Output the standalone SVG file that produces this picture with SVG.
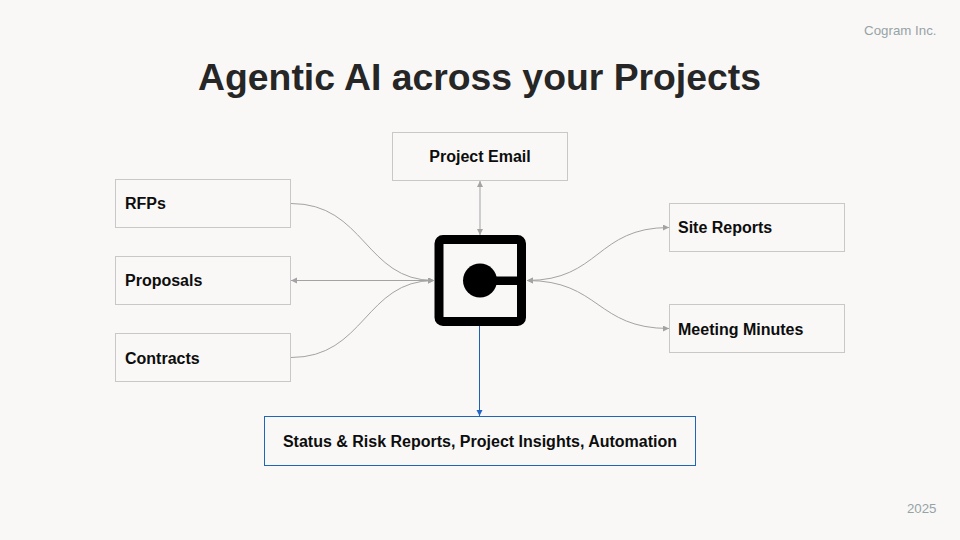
<svg xmlns="http://www.w3.org/2000/svg" width="960" height="540" viewBox="0 0 960 540">
<style>
text{font-family:"Liberation Sans",Arial,sans-serif}
.box{fill:#f9f8f7;stroke:#c8c8c8;stroke-width:1}
.lbl{font-size:16px;font-weight:700;fill:#0d0d0d}
.c{fill:none;stroke:#a3a3a3;stroke-width:1}
.meta{font-size:13.300px;fill:#96a3a6}
</style>
<defs>
<marker id="ag" markerUnits="userSpaceOnUse" markerWidth="8" markerHeight="8" refX="6" refY="3" orient="auto-start-reverse"><path d="M0 0L6 3L0 6Z" fill="#a3a3a3"/></marker>
<marker id="ab" markerUnits="userSpaceOnUse" markerWidth="8" markerHeight="8" refX="6" refY="3" orient="auto"><path d="M0 0L6 3L0 6Z" fill="#1f66c9"/></marker>
</defs>
<rect width="960" height="540" fill="#f9f8f7"/>
<text x="936.500" y="35" text-anchor="end" class="meta">Cogram Inc.</text>
<text x="479.500" y="90" text-anchor="middle" font-size="37.330" font-weight="700" fill="#262626">Agentic AI across your Projects</text>
<g id="connectors">
<path class="c" d="M291 203.500C365 203.500 365 280.500 434 280.500" marker-end="url(#ag)"/>
<path class="c" d="M291 280.500H434" marker-start="url(#ag)" marker-end="url(#ag)"/>
<path class="c" d="M291 357.500C365 357.500 365 280.500 434 280.500" marker-end="url(#ag)"/>
<path class="c" d="M480 181V235" marker-start="url(#ag)" marker-end="url(#ag)"/>
<path class="c" d="M527 280.500C600 280.500 596 227.500 669 227.500" marker-start="url(#ag)" marker-end="url(#ag)"/>
<path class="c" d="M527 280.500C600 280.500 596 328.500 669 328.500" marker-start="url(#ag)" marker-end="url(#ag)"/>
<path d="M479.500 326V416" fill="none" stroke="#1f5fb4" stroke-width="1" marker-end="url(#ab)"/>
</g>
<g id="node-email"><rect class="box" x="392.500" y="132.500" width="175" height="48"/><text class="lbl" x="480" y="162" text-anchor="middle">Project Email</text></g>
<g id="node-rfps"><rect class="box" x="115.500" y="179.500" width="175" height="48"/><text class="lbl" x="125" y="209">RFPs</text></g>
<g id="node-proposals"><rect class="box" x="115.500" y="256.500" width="175" height="48"/><text class="lbl" x="125" y="286">Proposals</text></g>
<g id="node-contracts"><rect class="box" x="115.500" y="333.500" width="175" height="48"/><text class="lbl" x="125" y="364">Contracts</text></g>
<g id="node-site"><rect class="box" x="669.500" y="203.500" width="175" height="48"/><text class="lbl" x="678" y="233">Site Reports</text></g>
<g id="node-minutes"><rect class="box" x="669.500" y="304.500" width="175" height="48"/><text class="lbl" x="678" y="335">Meeting Minutes</text></g>
<g id="node-output"><rect x="264.500" y="416.500" width="431" height="49" fill="#f9f8f7" stroke="#1f66b8" stroke-width="1"/><text class="lbl" x="480" y="447" text-anchor="middle">Status &amp; Risk Reports, Project Insights, Automation</text></g>
<g id="node-logo">
<rect x="439" y="239.500" width="82.500" height="82" rx="4" fill="none" stroke="#000" stroke-width="9"/>
<circle cx="480" cy="280.500" r="17"/>
<rect x="480" y="276.500" width="38" height="8.500"/>
</g>
<text x="936.500" y="513" text-anchor="end" class="meta">2025</text>
</svg>
